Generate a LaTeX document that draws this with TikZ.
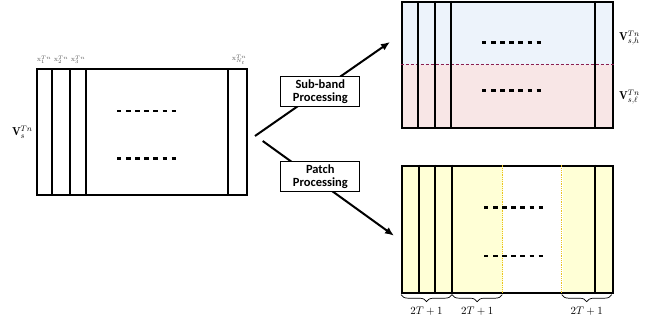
\documentclass[tikz,border=0pt]{standalone}
\usepackage{amsmath}
\usepackage{fontspec}
\newfontfamily\boxfont{Carlito}
\usetikzlibrary{calc}
\usetikzlibrary{positioning}
\usetikzlibrary{arrows.meta}
\usetikzlibrary{decorations.pathreplacing}

\definecolor{bandhi}{RGB}{237,243,251}
\definecolor{bandlo}{RGB}{248,230,230}
\definecolor{bandedge}{RGB}{140,30,80}
\definecolor{patchfill}{RGB}{255,255,214}
\definecolor{patchedge}{RGB}{235,195,30}

\begin{document}
\begin{tikzpicture}[x=1pt,y=1pt]
\tikzstyle{frame}=[rectangle,draw,line width=2pt,inner sep=0pt]
\tikzstyle{col}=[line width=2pt]
\tikzstyle{dots}=[line width=2.6pt,dash pattern=on 4.4pt off 4.7pt]
\tikzstyle{proc}=[rectangle,align=center,draw,line width=0.8pt,fill=white,inner sep=1pt,
                  minimum width=79pt,minimum height=30pt,
                  font=\boxfont\bfseries\fontsize{12.5}{13.5}\selectfont]
\tikzstyle{flow}=[line width=2pt,-{Latex[length=9pt,width=7.5pt]}]
\tikzstyle{brc}=[decorate,decoration={brace,mirror,amplitude=7pt},line width=0.7pt]
\tikzstyle{vlab}=[inner sep=0pt,font=\fontsize{11.5}{13}\selectfont]
\tikzstyle{xlab}=[inner sep=0pt,font=\fontsize{4.5}{5}\selectfont,text=black!70]

\useasboundingbox (0,0) rectangle (646,335);

% input matrix
\node[frame,minimum width=210pt,minimum height=126pt] (src) at (141.7,202.7) {};
\foreach \d in {16.3,33.8,50,192.3}
  \draw[col] ($(src.north west)+(\d,0)$) -- ($(src.south west)+(\d,0)$);
\foreach \d/\t in {8.3/1,25.3/2,42.3/3,203.3/{N_t}}
  \node[xlab] at ($(src.north west)+(\d,8.5)$) {$\mathrm{X}_{\t}^{Tn}$};
\foreach \h in {85.3,37.6}
  \draw[dots] ($(src.south west)+(81.3,\h)$) -- ++(59,0);
\node[vlab,left=3pt of src] (vs) {$\mathbf{V}_s^{Tn}$};

% sub-band output
\node[frame,minimum width=211pt,minimum height=125.7pt,
      path picture={\fill[bandhi] (path picture bounding box.north west) rectangle (path picture bounding box.east);
                    \fill[bandlo] (path picture bounding box.south west) rectangle (path picture bounding box.east);}]
  (band) at (507.2,270.2) {};
\draw[bandedge,line width=0.6pt,densely dashed] ($(band.west)+(0,0.8)$) -- ($(band.east)+(0,0.8)$);
\foreach \d in {17.3,34,50.3,194}
  \draw[col] ($(band.north west)+(\d,0)$) -- ($(band.south west)+(\d,0)$);
\foreach \h in {86,38.4}
  \draw[dots] ($(band.south west)+(81.3,\h)$) -- ++(59,0);
\node[vlab,anchor=west] (vh) at (619,297) {$\mathbf{V}_{s,h}^{Tn}$};
\node[vlab,anchor=west] (vl) at (619,238) {$\mathbf{V}_{s,\ell}^{Tn}$};

% patch output
\node[frame,minimum width=210.7pt,minimum height=127pt,
      path picture={\fill[patchfill] (path picture bounding box.south west) rectangle ++(101.3,127);
                    \fill[patchfill] ($(path picture bounding box.south west)+(160.7,0)$) rectangle (path picture bounding box.north east);}]
  (patch) at (507.35,105.8) {};
\foreach \d in {101.3,160.7}
  \draw[patchedge,line width=0.8pt,densely dotted] ($(patch.north west)+(\d,0)$) -- ($(patch.south west)+(\d,0)$);
\foreach \d in {18,34,51,193.7}
  \draw[col] ($(patch.north west)+(\d,0)$) -- ($(patch.south west)+(\d,0)$);
\foreach \h in {86,37.7}
  \draw[dots] ($(patch.south west)+(83,\h)$) -- ++(59,0);
\foreach \a/\b in {0/51,51/101.3,160.7/210.7}
  \draw[brc] ($(patch.south west)+(\a,-1)$) -- ($(patch.south west)+(\b,-1)$)
    node[midway,below=12pt,inner sep=0pt,font=\fontsize{11}{12}\selectfont] {$2T+1$};

% processing branches
\coordinate (forkhi) at (255,199);
\coordinate (forklo) at (262.7,194);
\coordinate (bandin) at (390,293);
\coordinate (patchin) at (394,99.3);
\draw[flow] (forkhi) -- (bandin);
\draw[flow] (forklo) -- (patchin);
\node[proc] (sub) at (320.3,243.3) {Sub-band\\Processing};
\node[proc] (pp) at (320.3,158.3) {Patch\\Processing};
\end{tikzpicture}
\end{document}
